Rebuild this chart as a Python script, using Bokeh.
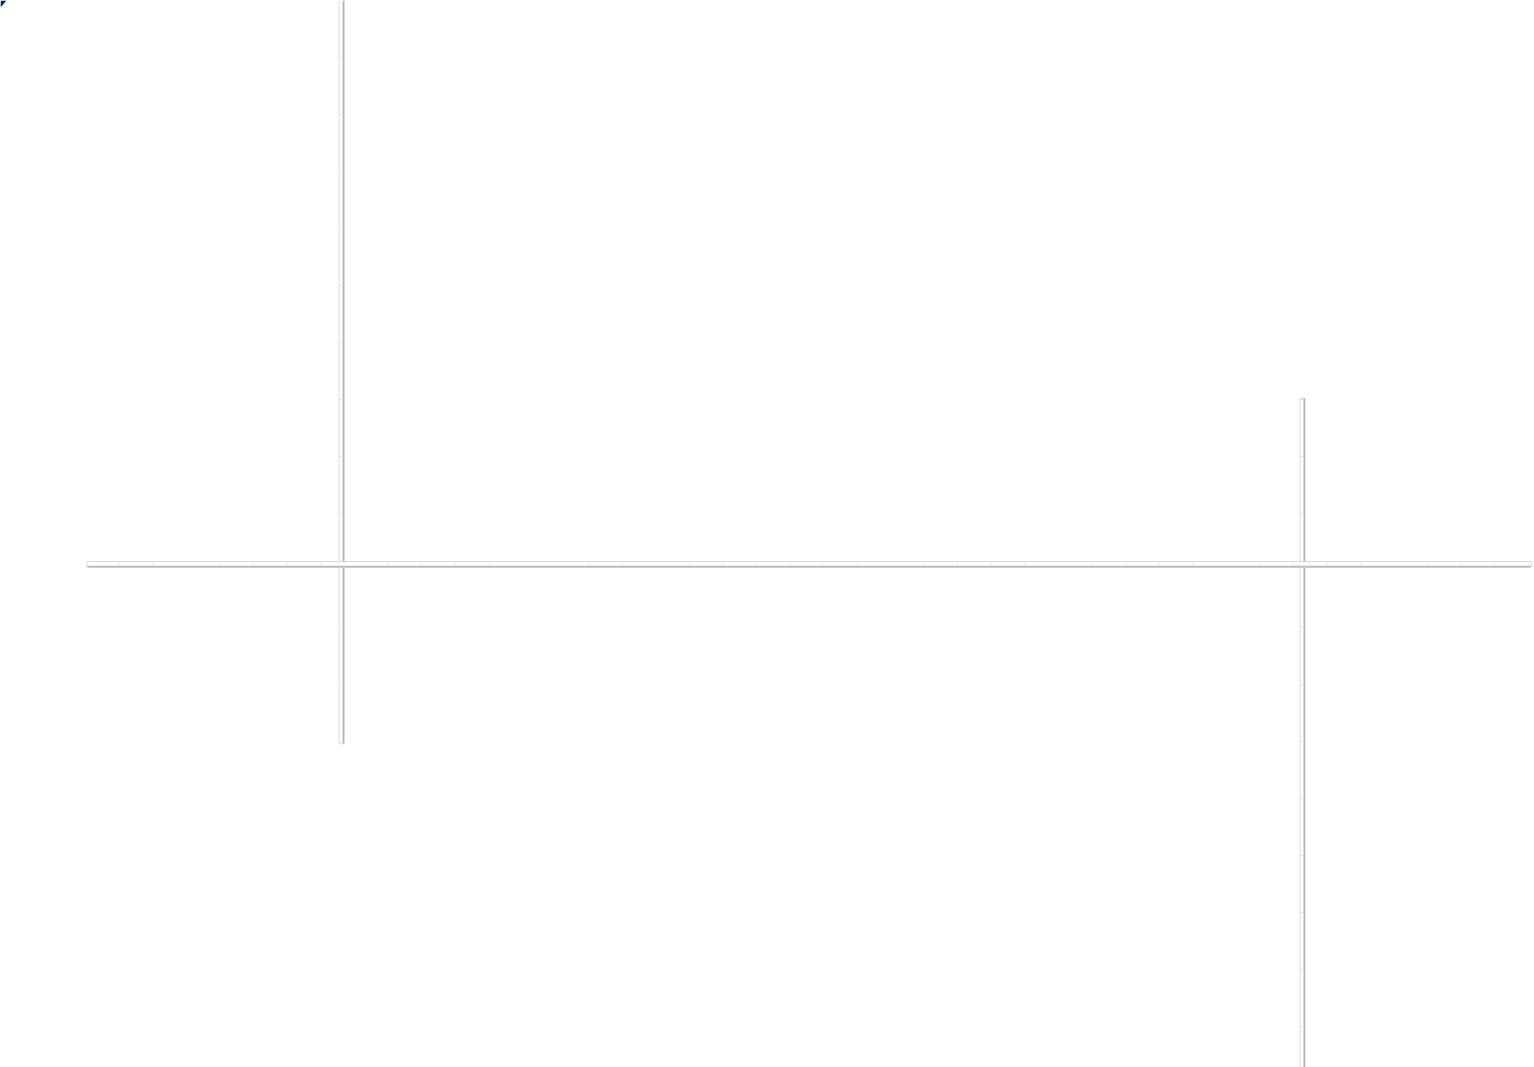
from bokeh.plotting import figure
from bokeh.embed import file_html
from bokeh.resources import INLINE

# ---- data (chart units: 1 x-unit = one horizontal tick step, 1 y-unit = one vertical tick step)
v_bar_x = [0.63, 29.27]          # vertical bars: x position
v_bar_y0 = [-3.04, -9.2]         # vertical bars: bottom
v_bar_y1 = [10.2, 3.02]          # vertical bars: top
h_bar_y = [0.105]                # horizontal bar: y position
h_bar_x0 = [-6.97]               # horizontal bar: left end
h_bar_x1 = [36.1]                # horizontal bar: right end
v_ticks_left = [-3, -2, -1, 1, 2, 3, 4, 5, 6, 7, 8, 9]
v_ticks_right = [-8, -7, -6, -5, -4, -3, -2, -1, 1, 2, 3]
h_ticks = list(range(-6, 37))

W, H = 1534, 1067
PX_X = 33.55     # pixels per x unit
PX_Y = 57.0      # pixels per y unit
X0_PX = 320.0    # screen x of x=0
Y0_PX = 570.0    # screen y of y=0

x_range = (-X0_PX / PX_X, (W - X0_PX) / PX_X)
y_range = ((Y0_PX - H) / PX_Y, Y0_PX / PX_Y)

p = figure(width=W, height=H, x_range=x_range, y_range=y_range,
           output_backend="svg", toolbar_location=None,
           x_axis_location=None, y_axis_location=None, min_border=0)
p.grid.visible = False
p.outline_line_color = None
p.background_fill_color = "white"
p.border_fill_color = "white"
p.styles = {"position": "fixed", "top": "0px", "left": "0px"}

dx = 1.0 / PX_X
dy = 1.0 / PX_Y

# vertical bars
vy = [(a + b) / 2 for a, b in zip(v_bar_y0, v_bar_y1)]
vh = [b - a for a, b in zip(v_bar_y0, v_bar_y1)]
p.rect(x=v_bar_x, y=vy, width=5, height=vh, width_units="screen",
       fill_color="white", line_color="#dcdcdc", line_width=1)
p.rect(x=[x + 1.8 * dx for x in v_bar_x], y=vy, width=1.6, height=vh,
       width_units="screen", fill_color="#b3b3b3", line_color=None)

# horizontal bar
hx = [(a + b) / 2 for a, b in zip(h_bar_x0, h_bar_x1)]
hw = [b - a for a, b in zip(h_bar_x0, h_bar_x1)]
p.rect(x=hx, y=h_bar_y, width=hw, height=6, height_units="screen",
       fill_color="white", line_color="#d6d6d6", line_width=1,
       border_radius=2)
p.rect(x=hx, y=[h_bar_y[0] - 2.0 * dy], width=[w - 0.05 for w in hw], height=1.6,
       height_units="screen", fill_color="#bababa", line_color=None)

# tick marks
p.rect(x=[v_bar_x[0] - 1.0 * dx] * len(v_ticks_left), y=v_ticks_left,
       width=4, height=1, width_units="screen", height_units="screen",
       fill_color="#e4e4e4", line_color=None)
p.rect(x=[v_bar_x[1] - 1.0 * dx] * len(v_ticks_right), y=v_ticks_right,
       width=4, height=1, width_units="screen", height_units="screen",
       fill_color="#e4e4e4", line_color=None)
p.rect(x=h_ticks, y=[h_bar_y[0] + 1.0 * dy] * len(h_ticks),
       width=1, height=4, width_units="screen", height_units="screen",
       fill_color="#ececec", line_color=None)

# dark corner mark at top-left
x_left, y_top = x_range[0], y_range[1]
p.patch(x=[x_left, x_left + 6 * dx, x_left],
        y=[y_top, y_top, y_top - 7 * dy],
        fill_color="#13263b", line_color=None)

open("out.html", "w").write(file_html(p, INLINE))
